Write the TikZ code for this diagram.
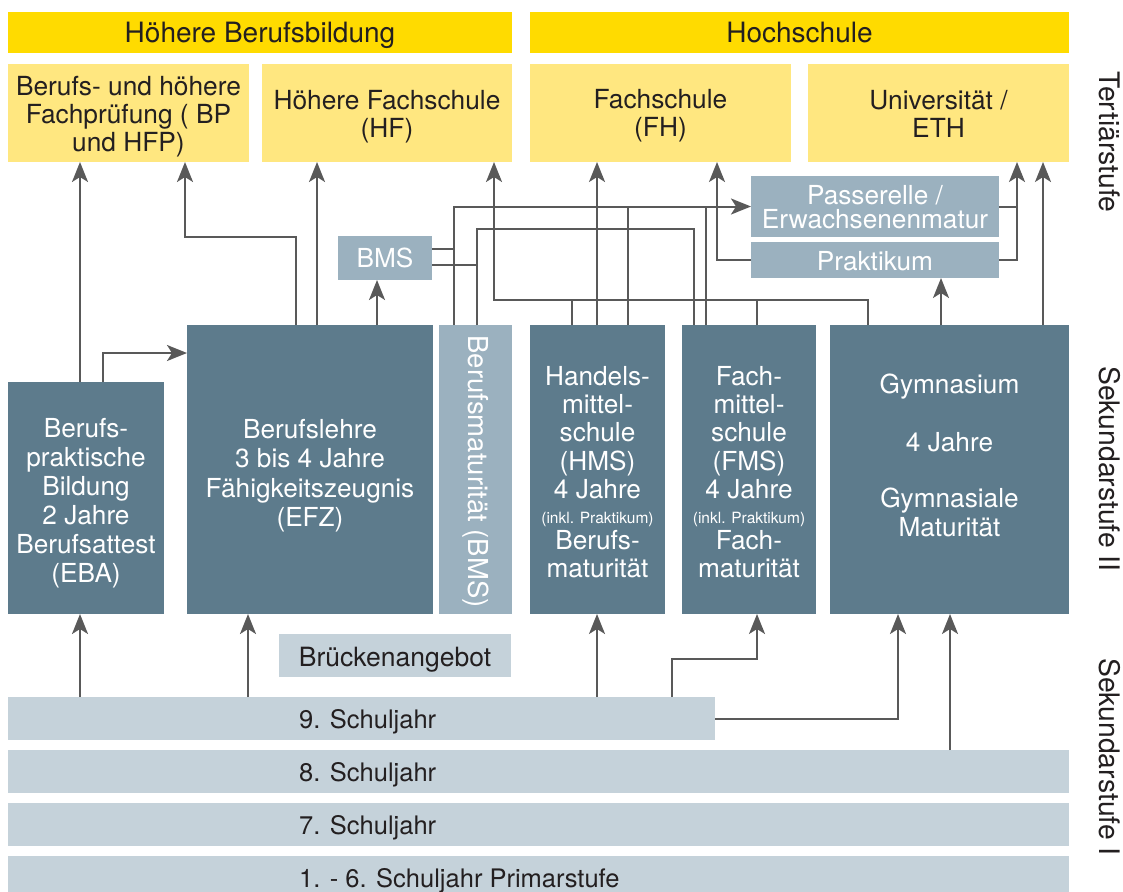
\documentclass[tikz,border=0pt]{standalone}
\usepackage{fontspec}
\setmainfont{TeX Gyre Heros}
\usetikzlibrary{arrows.meta}
\definecolor{hdr}{HTML}{FFDB00}
\definecolor{lyel}{HTML}{FFE780}
\definecolor{dslate}{HTML}{5D7B8C}
\definecolor{lslate}{HTML}{9BB1BF}
\definecolor{pale}{HTML}{C5D2DA}
\definecolor{ink}{HTML}{231F20}
\definecolor{lineclr}{HTML}{595959}
\newcommand{\inklsmall}[1]{{\fontsize{15.5}{17}\selectfont #1}}
\begin{document}
\begin{tikzpicture}[x=1pt,y=-1pt,
  box/.style={draw=none, inner sep=0pt, outer sep=0pt, anchor=north west},
  wh/.style 2 args={minimum width=#1, minimum height=#2},
  hdrbox/.style={box, fill=hdr},
  tbox/.style={box, fill=lyel},
  dbox/.style={box, fill=dslate},
  lbox/.style={box, fill=lslate},
  pbox/.style={box, fill=pale},
  htxt/.style={text=ink, align=center, inner sep=0pt, font=\fontsize{28}{30}\selectfont},
  ytxt/.style={text=ink, align=center, inner sep=0pt, font=\fontsize{26.3}{28}\selectfont},
  wtxt/.style={text=white, align=center, inner sep=0pt, font=\fontsize{26.2}{29}\selectfont},
  ptxt/.style={text=ink, align=center, inner sep=0pt, font=\fontsize{26.5}{29}\selectfont},
  stxt/.style={text=ink, inner sep=0pt, anchor=west, font=\fontsize{25.5}{29}\selectfont},
  side/.style={rotate=-90, text=ink, inner sep=0pt, font=\fontsize{28.3}{30}\selectfont},
  conn/.style={draw=lineclr, line width=2pt},
  arr/.style={conn, -{Stealth[length=20pt, width=16pt, inset=5pt]}}
]
\useasboundingbox (0,0) rectangle (1123,891);

% headers
\node[hdrbox, wh={504pt}{41pt}] (hb) at (8,12) {};
\node[htxt] (hbt) at ([yshift=-3pt]hb.center) {Höhere Berufsbildung};
\node[hdrbox, wh={539pt}{41pt}] (hs) at (530,12) {};
\node[htxt] (hst) at (hs.center) {Hochschule};

% tertiary institutions
\node[tbox, wh={241pt}{98pt}] (bp) at (8,64) {};
\node[ytxt] (bpt) at ([yshift=-4pt]bp.center) {Berufs- und höhere\\Fachprüfung ( BP\\und HFP)};
\node[tbox, wh={250pt}{98pt}] (hf) at (262,64) {};
\node[ytxt] (hft) at ([yshift=-3.5pt]hf.center) {Höhere Fachschule\\(HF)};
\node[tbox, wh={261pt}{98pt}] (fh) at (530,64) {};
\node[ytxt] (fht) at ([yshift=-3pt]fh.center) {Fachschule\\(FH)};
\node[tbox, wh={261pt}{98pt}] (uni) at (808,64) {};
\node[ytxt] (unit) at ([yshift=-1pt]uni.center) {Universität /\\ETH};

% secondary II
\node[dbox, wh={156pt}{232pt}] (eba) at (8,382) {};
\node[wtxt] (ebat) at ([yshift=-5pt]eba.center) {Berufs-\\praktische\\Bildung\\2 Jahre\\Berufsattest\\(EBA)};
\node[dbox, wh={246pt}{289pt}] (efz) at (187,325) {};
\node[wtxt, font=\fontsize{26.2}{29.5}\selectfont] (efzt) at ([yshift=-6pt]efz.center) {Berufslehre\\3 bis 4 Jahre\\Fähigkeitszeugnis\\(EFZ)};
\node[lbox, wh={73pt}{289pt}] (bmsv) at (439,325) {};
\node[wtxt, rotate=-90, font=\fontsize{27.5}{30}\selectfont] (bmsvt) at ([yshift=-2pt]bmsv.center) {Berufsmaturität (BMS)};
\node[dbox, wh={135pt}{289pt}] (hms) at (530,325) {};
\node[wtxt, font=\fontsize{26.2}{28.3}\selectfont] (hmst) at ([yshift=-2.5pt]hms.center) {Handels-\\mittel-\\schule\\(HMS)\\4 Jahre\\[-3.3pt]\inklsmall{(inkl. Praktikum)}\\[-2.3pt]Berufs-\\maturität};
\node[dbox, wh={134pt}{289pt}] (fms) at (682,325) {};
\node[wtxt, font=\fontsize{26.2}{28.3}\selectfont] (fmst) at ([yshift=-2.5pt]fms.center) {Fach-\\mittel-\\schule\\(FMS)\\4 Jahre\\[-3.3pt]\inklsmall{(inkl. Praktikum)}\\[-2.3pt]Fach-\\maturität};
\node[dbox, wh={239pt}{289pt}] (gym) at (830,325) {};
\node[wtxt, font=\fontsize{26.2}{28.8}\selectfont] (gymt) at (949.5,455.5) {Gymnasium\\[29.5pt]4 Jahre\\[27.5pt]Gymnasiale\\Maturität};

% intermediate boxes
\node[lbox, wh={94pt}{44pt}] (bms) at (338,236) {};
\node[wtxt] (bmst) at (bms.center) {BMS};
\node[lbox, wh={248pt}{61pt}] (pass) at (751,176) {};
\node[wtxt, font=\fontsize{26.2}{24}\selectfont] (passt) at ([yshift=-1pt]pass.center) {Passerelle /\\Erwachsenenmatur};
\node[lbox, wh={248pt}{36pt}] (prak) at (751,242) {};
\node[wtxt] (prakt) at ([yshift=-1pt]prak.center) {Praktikum};
\node[pbox, wh={232pt}{43pt}] (brueck) at (279,634) {};
\node[ptxt] (bruekt) at ([yshift=-4pt]brueck.center) {Brückenangebot};

% school years
\node[pbox, wh={707pt}{43pt}] (s9) at (8,697) {};
\node[pbox, wh={1061pt}{43pt}] (s8) at (8,750) {};
\node[pbox, wh={1061pt}{43pt}] (s7) at (8,803) {};
\node[pbox, wh={1061pt}{43pt}] (s16) at (8,856) {};
\node[stxt] (s9t) at (299,721.5) {9. Schuljahr};
\node[stxt] (s8t) at (299,774.5) {8. Schuljahr};
\node[stxt] (s7t) at (299,828) {7. Schuljahr};
\node[stxt] (s16t) at (299,880.5) {1. - 6. Schuljahr Primarstufe};

% side labels
\node[side] (tert) at (1110,142) {Tertiärstufe};
\node[side] (sek2) at (1110,469) {Sekundarstufe II};
\node[side] (sek1) at (1110,757) {Sekundarstufe I};

% connectors: upper part
\draw[arr] (80,0 |- eba.north) -- (80,0 |- bp.south);
\draw[arr] (103,0 |- eba.north) |- (efz.west |- 0,353);
\draw[arr] (296,0 |- efz.north) |- (185,237) -- (185,0 |- bp.south);
\draw[arr] (317,0 |- efz.north) -- (317,0 |- hf.south);
\draw[arr] (377,0 |- efz.north) -- (377,0 |- bms.south);
\draw[arr] (454,0 |- bmsv.north) |- (pass.west);
\draw[conn] (477,0 |- bmsv.north) |- (694,229) -- (694,0 |- fms.north);
\draw[conn] (bms.east |- 0,249) -- (454,249);
\draw[conn] (bms.east |- 0,265) -- (477,265);
\draw[arr] (868,0 |- gym.north) |- (494,300) -- (494,0 |- hf.south);
\draw[conn] (572,0 |- hms.north) -- (572,300);
\draw[conn] (757,0 |- fms.north) -- (757,300);
\draw[arr] (597,0 |- hms.north) -- (597,0 |- fh.south);
\draw[conn] (628,0 |- hms.north) -- (628,0 |- pass.west);
\draw[conn] (706,0 |- fms.north) -- (706,0 |- pass.west);
\draw[arr] (prak.west) -| (717,0 |- fh.south);
\draw[arr] (pass.east) -| (1017,0 |- uni.south);
\draw[conn] (prak.east) -| (1017,0 |- pass.east);
\draw[arr] (941,0 |- gym.north) -- (941,0 |- prak.south);
\draw[arr] (1043,0 |- gym.north) -- (1043,0 |- uni.south);

% connectors: lower part
\draw[arr] (80,0 |- s9.north) -- (80,0 |- eba.south);
\draw[arr] (248,0 |- s9.north) -- (248,0 |- efz.south);
\draw[arr] (597,0 |- s9.north) -- (597,0 |- hms.south);
\draw[arr] (672,0 |- s9.north) |- (757,659) -- (757,0 |- fms.south);
\draw[arr] (s9.east) -| (898,0 |- gym.south);
\draw[arr] (950,0 |- s8.north) -- (950,0 |- gym.south);
\end{tikzpicture}
\end{document}
